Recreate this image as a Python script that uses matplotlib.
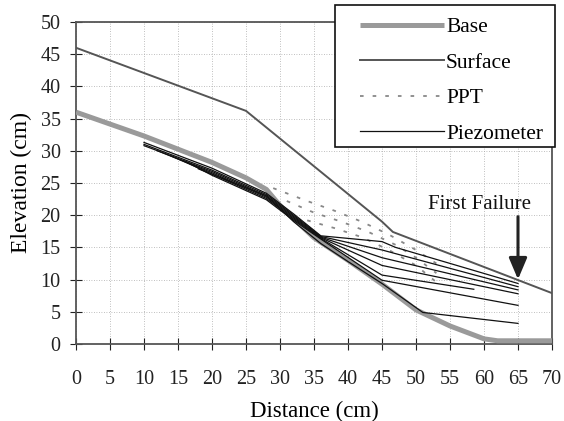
import matplotlib
matplotlib.use("Agg")
import matplotlib.pyplot as plt
from matplotlib.patches import Rectangle

# ---- data ----
base_x = [0, 10, 20, 25, 28, 30, 35, 40, 45, 50, 55, 60, 62, 70]
base_y = [36, 32.3, 28.2, 25.8, 24.0, 21.5, 16.5, 13.0, 9.3, 5.3, 2.8, 0.8, 0.5, 0.5]

surf_x = [0, 25, 45, 46.6, 70]
surf_y = [46, 36.2, 19.0, 17.4, 7.9]

ppt_x = [
    [29, 34, 38, 42, 46, 50, 53],
    [31, 35, 39, 43, 47, 50, 53],
    [34, 38, 42, 46, 50, 53],
]
ppt_y = [
    [24.2, 22.2, 20.7, 19.0, 17.0, 14.6, 12.5],
    [22.2, 20.4, 19.0, 17.4, 15.4, 13.4, 11.0],
    [19.2, 18.0, 16.6, 14.6, 12.2, 9.6],
]

piezo_x = [
    [10, 20, 28, 32, 36, 45, 47, 65],
    [10, 20, 28, 32, 36, 45, 65],
    [10, 20, 28, 32, 36, 45, 65],
    [12, 20, 28, 32, 36, 45, 65],
    [14, 20, 28, 32, 36, 45, 58.5],
    [16, 20, 28, 32, 36, 45, 65],
    [18, 28, 32, 36, 40, 45, 51, 65],
]
piezo_y = [
    [31.3, 27.3, 23.4, 20.2, 16.8, 15.9, 15.0, 9.4],
    [31.0, 27.0, 23.2, 20.0, 16.7, 14.6, 8.9],
    [30.8, 26.8, 23.0, 19.8, 16.6, 13.4, 8.4],
    [30.0, 26.6, 22.8, 19.6, 16.5, 12.2, 7.8],
    [29.2, 26.4, 22.6, 19.4, 16.4, 10.7, 8.5],
    [28.4, 26.2, 22.4, 19.2, 16.3, 9.9, 6.0],
    [27.2, 23.0, 19.0, 15.6, 12.8, 9.4, 4.9, 3.2],
]

fail_x = 65
fail_y = 9.6

xticks = list(range(0, 75, 5))
yticks = list(range(0, 55, 5))

# ---- plot ----
plt.rcParams['font.family'] = ['Liberation Serif', 'DejaVu Serif']
fig = plt.figure(figsize=(5.64, 4.21), dpi=100)
ax = fig.add_axes([76/564, 1-344/421, (552-76)/564, (344-22)/421])

ax.set_xlim(0, 70)
ax.set_ylim(0, 50)
ax.set_xticks(xticks)
ax.set_yticks(yticks)
ax.tick_params(direction='inout', length=8, width=0.8, labelsize=14.5, colors='#222222')
ax.tick_params(axis='x', pad=15)
ax.tick_params(axis='y', pad=7)
ax.grid(True, linestyle=(0, (1, 2)), color='#aaaaaa', linewidth=0.6)
ax.set_axisbelow(True)
for s in ax.spines.values():
    s.set_color('#555555')
    s.set_linewidth(1.3)

ax.plot(base_x, base_y, color='#9a9a9a', lw=3.6, solid_capstyle='butt', label='Base', zorder=3)
ax.plot(surf_x, surf_y, color='#555555', lw=1.4, label='Surface', zorder=3)
for i, (xs, ys) in enumerate(zip(ppt_x, ppt_y)):
    ax.plot(xs, ys, color='#888888', lw=1.3, linestyle=(0, (2, 5)),
            label='PPT' if i == 0 else None, zorder=3)
for i, (xs, ys) in enumerate(zip(piezo_x, piezo_y)):
    ax.plot(xs, ys, color='#111111', lw=0.9,
            label='Piezometer' if i == 0 else None, zorder=4)

ax.annotate('', xy=(fail_x, fail_y), xytext=(fail_x, 20.2),
            arrowprops=dict(arrowstyle='-|>,head_length=1.3,head_width=0.55',
                            color='#222222', lw=2.2), zorder=5)
ax.text(59.3, 21.6, 'First Failure', fontsize=15, ha='center', va='center', color='#111111')

ax.set_xlabel('Distance (cm)', fontsize=16.5, labelpad=8)
ax.set_ylabel('Elevation (cm)', fontsize=17, labelpad=6)

# legend box
box = Rectangle((335/564, 1-147/421), 220/564, 142/421, transform=fig.transFigure,
                facecolor='white', edgecolor='#111111', linewidth=1.2, zorder=4)
fig.patches.append(box)
leg = fig.legend(loc='upper left', bbox_to_anchor=(360/564, 1-17/421),
                 bbox_transform=fig.transFigure, fontsize=15.5, frameon=False,
                 handlelength=3.9, handletextpad=0.1, labelspacing=0.72,
                 borderpad=0, borderaxespad=0)
leg.set_zorder(6)

fig.savefig('out.png', dpi=100)
